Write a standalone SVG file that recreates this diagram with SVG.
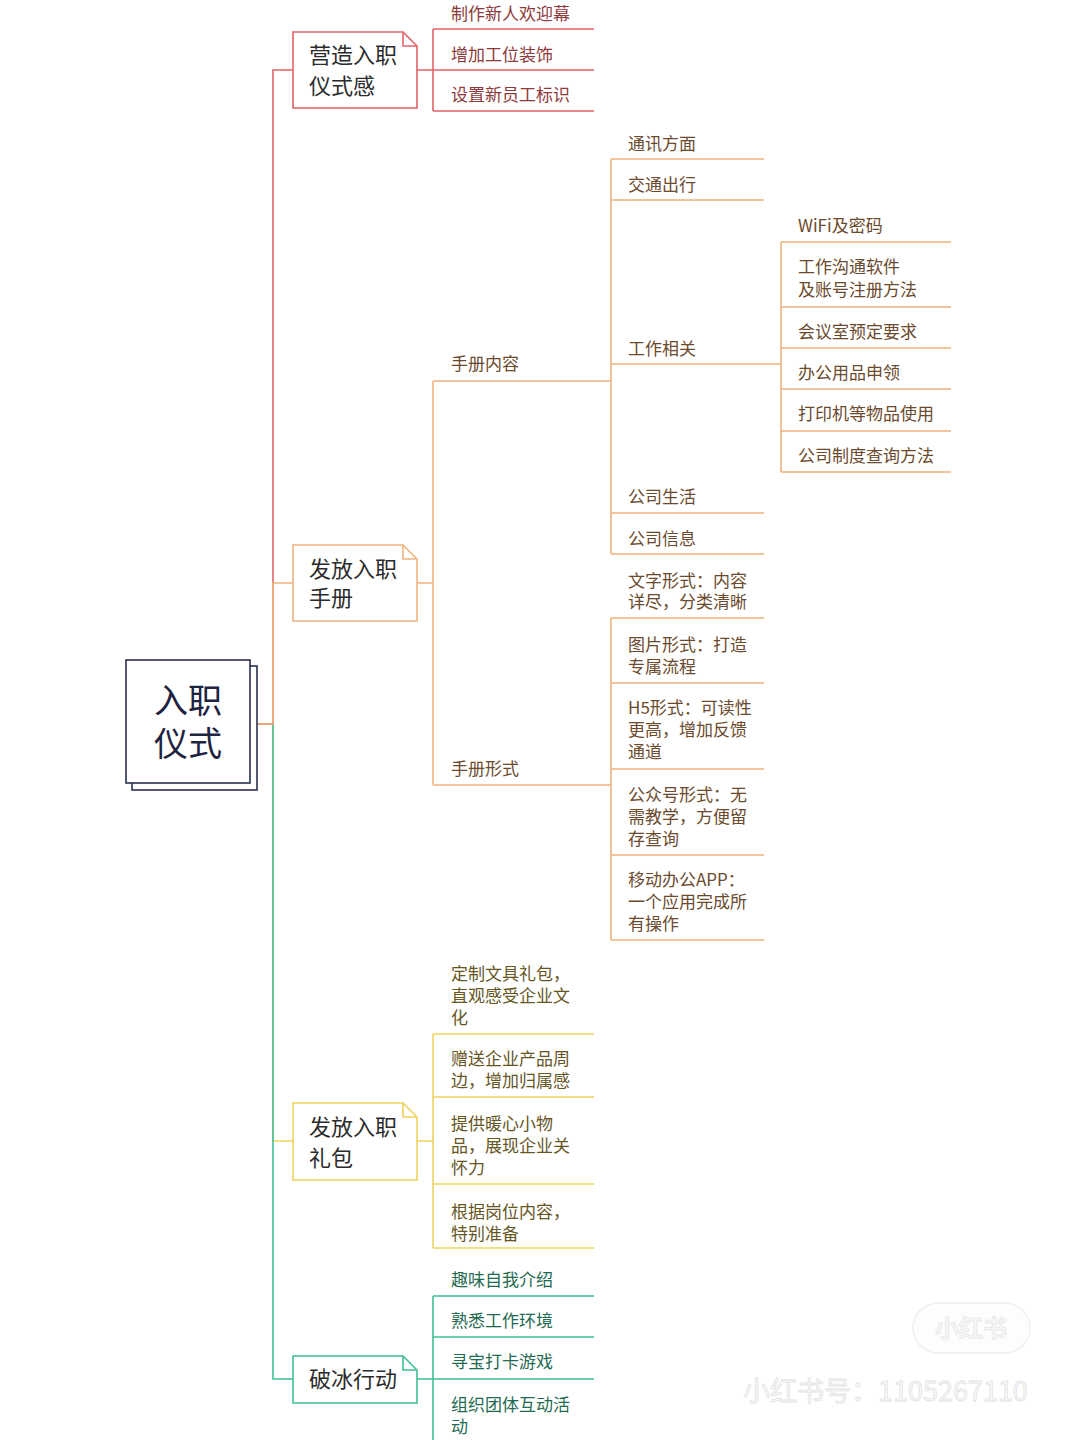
<svg xmlns="http://www.w3.org/2000/svg" width="1080" height="1440" viewBox="0 0 1080 1440">
<style>
text{font-family:"Noto Sans CJK SC","Noto Sans",sans-serif;dominant-baseline:central}
.leaf{font-size:17px}
.br{font-size:22px;fill:#2b2b2b}
.rt{font-size:34px;fill:#1e2340;text-anchor:middle}
.red{stroke:#e26268}
.org{stroke:#f0b37c}
.yel{stroke:#efd35c}
.grn{stroke:#3fbf98}
.ln{fill:none;stroke-width:1.6}
.tr{fill:#8e3a3a}
.to{fill:#6b4a2e}
.ty{fill:#66561f}
.tg{fill:#1f6b52}
.nb{fill:#fff;stroke-width:1.6}
</style>
<rect width="1080" height="1440" fill="#fff"/>

<g id="connectors">
  <path class="ln yel" d="M257 724 H273 V1141 H293"/>
  <path class="ln grn" d="M257 724 H273 V1379 H293"/>
  <path class="ln red" d="M257 724 H273 V70 H293"/>
  <path class="ln org" d="M257 724 H273 V583 H293"/>
  <path class="ln red" d="M417 70 H433 M433 29 V111 M433 29 H594 M433 70 H594 M433 111 H594"/>
  <path class="ln org" d="M417 583 H433 M433 381 V785 M433 381 H611 M433 785 H611"/>
  <path class="ln org" d="M611 159 V554 M611 159 H764 M611 200 H764 M611 364 H781 M611 513 H764 M611 554 H764"/>
  <path class="ln org" d="M781 242 V472 M781 242 H951 M781 307 H951 M781 348 H951 M781 389 H951 M781 431 H951 M781 472 H951"/>
  <path class="ln org" d="M611 618 V940 M611 618 H764 M611 683 H764 M611 769 H764 M611 855 H764 M611 940 H764"/>
  <path class="ln yel" d="M417 1141 H433 M433 1034 V1248 M433 1034 H594 M433 1097 H594 M433 1184 H594 M433 1248 H594"/>
  <path class="ln grn" d="M417 1379 H433 M433 1296 V1440 M433 1296 H594 M433 1337 H594 M433 1379 H594"/>
</g>

<g id="root">
  <rect x="132" y="666" width="125" height="124" fill="#fff" stroke="#2a2f4f" stroke-width="1.6"/>
  <rect x="126" y="660" width="124" height="123" fill="#fff" stroke="#2a2f4f" stroke-width="1.6"/>
  <text class="rt" x="188" y="698">入职<tspan x="188" dy="43">仪式</tspan></text>
</g>

<g id="n-yingzao">
  <path class="nb red" d="M293 32 H403 L417 46 V108 H293 Z"/>
  <path class="ln red" d="M403 32 V46 H417"/>
  <text class="br" x="309" y="53">营造入职<tspan x="309" dy="31">仪式感</tspan></text>
</g>
<g id="red-leaves">
  <text class="leaf tr" x="451" y="12">制作新人欢迎幕</text>
  <text class="leaf tr" x="451" y="53">增加工位装饰</text>
  <text class="leaf tr" x="451" y="93">设置新员工标识</text>
</g>

<g id="n-shouce">
  <path class="nb org" d="M293 545 H403 L417 559 V621 H293 Z"/>
  <path class="ln org" d="M403 545 V559 H417"/>
  <text class="br" x="309" y="567">发放入职<tspan x="309" dy="29">手册</tspan></text>
</g>
<g id="orange-leaves">
  <text class="leaf to" x="451" y="362">手册内容</text>
  <text class="leaf to" x="451" y="767">手册形式</text>
  <text class="leaf to" x="628" y="142">通讯方面</text>
  <text class="leaf to" x="628" y="183">交通出行</text>
  <text class="leaf to" x="628" y="347">工作相关</text>
  <text class="leaf to" x="628" y="495">公司生活</text>
  <text class="leaf to" x="628" y="537">公司信息</text>
  <text class="leaf to" x="798" y="224">WiFi及密码</text>
  <text class="leaf to" x="798" y="265">工作沟通软件<tspan x="798" dy="23">及账号注册方法</tspan></text>
  <text class="leaf to" x="798" y="330">会议室预定要求</text>
  <text class="leaf to" x="798" y="371">办公用品申领</text>
  <text class="leaf to" x="798" y="412">打印机等物品使用</text>
  <text class="leaf to" x="798" y="454">公司制度查询方法</text>
  <text class="leaf to" x="628" y="579">文字形式：内容<tspan x="628" dy="21">详尽，分类清晰</tspan></text>
  <text class="leaf to" x="628" y="643">图片形式：打造<tspan x="628" dy="22">专属流程</tspan></text>
  <text class="leaf to" x="628" y="706">H5形式：可读性<tspan x="628" dy="22">更高，增加反馈</tspan><tspan x="628" dy="22">通道</tspan></text>
  <text class="leaf to" x="628" y="793">公众号形式：无<tspan x="628" dy="22">需教学，方便留</tspan><tspan x="628" dy="22">存查询</tspan></text>
  <text class="leaf to" x="628" y="878">移动办公APP：<tspan x="628" dy="22">一个应用完成所</tspan><tspan x="628" dy="22">有操作</tspan></text>
</g>

<g id="n-libao">
  <path class="nb yel" d="M293 1103 H403 L417 1117 V1180 H293 Z"/>
  <path class="ln yel" d="M403 1103 V1117 H417"/>
  <text class="br" x="309" y="1125">发放入职<tspan x="309" dy="31">礼包</tspan></text>
</g>
<g id="yellow-leaves">
  <text class="leaf ty" x="451" y="972">定制文具礼包，<tspan x="451" dy="22">直观感受企业文</tspan><tspan x="451" dy="22">化</tspan></text>
  <text class="leaf ty" x="451" y="1057">赠送企业产品周<tspan x="451" dy="22">边，增加归属感</tspan></text>
  <text class="leaf ty" x="451" y="1122">提供暖心小物<tspan x="451" dy="22">品，展现企业关</tspan><tspan x="451" dy="22">怀力</tspan></text>
  <text class="leaf ty" x="451" y="1210">根据岗位内容，<tspan x="451" dy="22">特别准备</tspan></text>
</g>

<g id="n-pobing">
  <path class="nb grn" d="M293 1356 H403 L417 1370 V1403 H293 Z"/>
  <path class="ln grn" d="M403 1356 V1370 H417"/>
  <text class="br" x="309" y="1377">破冰行动</text>
</g>
<g id="green-leaves">
  <text class="leaf tg" x="451" y="1278">趣味自我介绍</text>
  <text class="leaf tg" x="451" y="1319">熟悉工作环境</text>
  <text class="leaf tg" x="451" y="1360">寻宝打卡游戏</text>
  <text class="leaf tg" x="451" y="1403">组织团体互动活<tspan x="451" dy="22">动</tspan></text>
</g>

<g id="watermark">
  <rect x="913" y="1303" width="117" height="50" rx="25" fill="#fdfdfd" stroke="#f0f0f0" stroke-width="1.5"/>
  <text x="971" y="1326" font-size="24" text-anchor="middle" fill="#f6f6f6" stroke="#e8e8e8" stroke-width="0.8" font-weight="bold">小红书</text>
  <text x="743" y="1389" font-size="27" fill="#fafafa" stroke="#e2e2e2" stroke-width="0.8">小红书号：1105267110</text>
</g>
</svg>
